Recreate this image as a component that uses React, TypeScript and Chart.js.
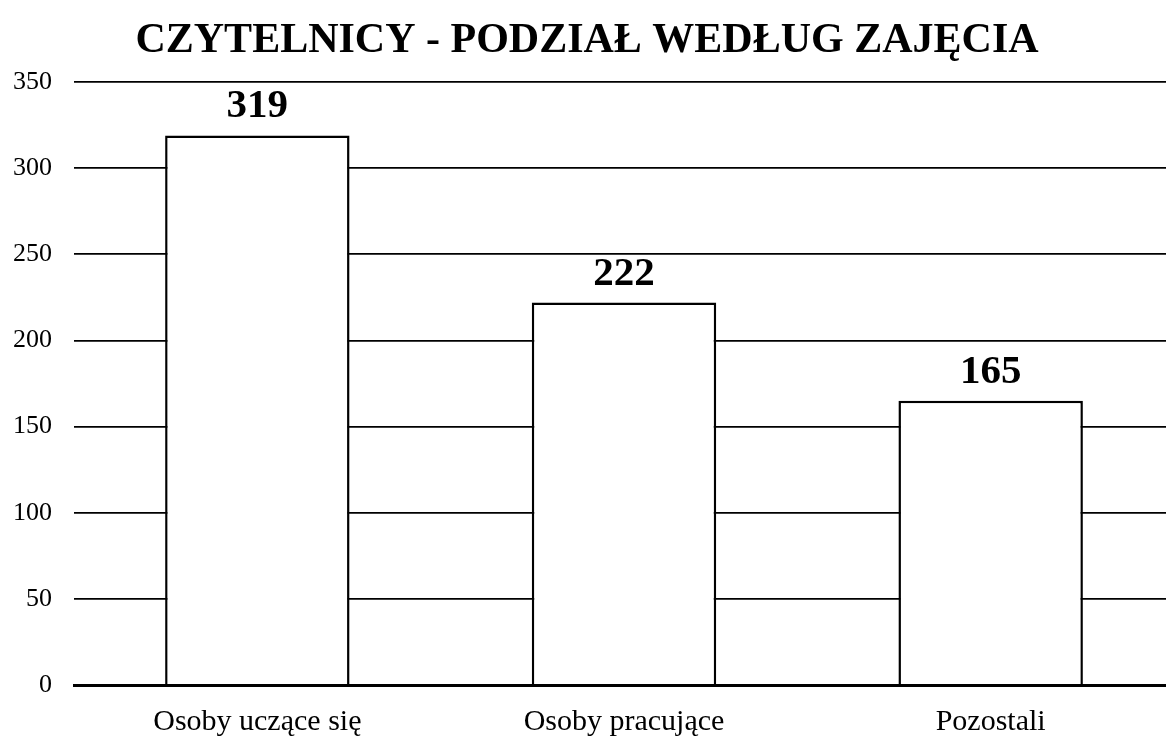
import React, { useEffect, useRef } from "react";
import { Chart, registerables } from "chart.js";

Chart.register(...registerables);

const titleText = "CZYTELNICY - PODZIAŁ WEDŁUG ZAJĘCIA";
const categories = ["Osoby uczące się", "Osoby pracujące", "Pozostali"];
const values = [319, 222, 165];
const yTicks = [0, 50, 100, 150, 200, 250, 300, 350];

const FONT = "'Liberation Serif', 'Times New Roman', serif";

const valueLabels = {
  id: "valueLabels",
  afterDatasetsDraw(chart: any) {
    const ctx = chart.ctx;
    const meta = chart.getDatasetMeta(0);
    ctx.save();
    ctx.font = `bold 41px ${FONT}`;
    ctx.fillStyle = "#000";
    ctx.textAlign = "center";
    ctx.textBaseline = "alphabetic";
    meta.data.forEach((bar: any, i: number) => {
      ctx.fillText(String(values[i]), bar.x, bar.y - 18);
    });
    ctx.restore();
  },
};

export default function App() {
  const ref = useRef<HTMLCanvasElement | null>(null);
  useEffect(() => {
    if (!ref.current) return;
    const chart = new Chart(ref.current, {
      type: "bar",
      data: {
        labels: categories,
        datasets: [
          {
            data: values,
            backgroundColor: "#ffffff",
            borderColor: "#000000",
            borderWidth: 2.5,
            barPercentage: 0.503,
            categoryPercentage: 1,
          },
        ],
      },
      options: {
        animation: false,
        responsive: false,
        layout: { padding: 0 },
        plugins: {
          legend: { display: false },
          tooltip: { enabled: false },
          title: {
            display: true,
            text: titleText,
            color: "#000",
            font: { family: FONT, size: 42, weight: "bold", lineHeight: 1.2 },
            padding: { top: 16, bottom: 15.6 },
          },
        },
        scales: {
          x: {
            grid: { display: false, drawTicks: false },
            border: { display: true, color: "#000", width: 3 },
            ticks: {
              color: "#000",
              font: { family: FONT, size: 30 },
              padding: 19,
            },
            afterFit: (s: any) => {
              s.height = 54;
            },
          },
          y: {
            min: 0,
            max: 350,
            afterBuildTicks: (s: any) => {
              s.ticks = yTicks.map((v) => ({ value: v }));
            },
            grid: { color: "#000", lineWidth: 1.8, drawTicks: false },
            border: { display: false },
            ticks: {
              color: "#000",
              font: { family: FONT, size: 26 },
              padding: 22,
            },
            afterFit: (s: any) => {
              s.width = 74;
            },
          },
        },
      },
      plugins: [valueLabels],
    });
    return () => chart.destroy();
  }, []);
  return (
    <div
      style={{
        position: "fixed",
        left: 0,
        top: 0,
        width: 1166,
        height: 739,
        overflow: "hidden",
        background: "#fff",
      }}
    >
      <canvas ref={ref} width={1174} height={739} style={{ display: "block" }} />
    </div>
  );
}
